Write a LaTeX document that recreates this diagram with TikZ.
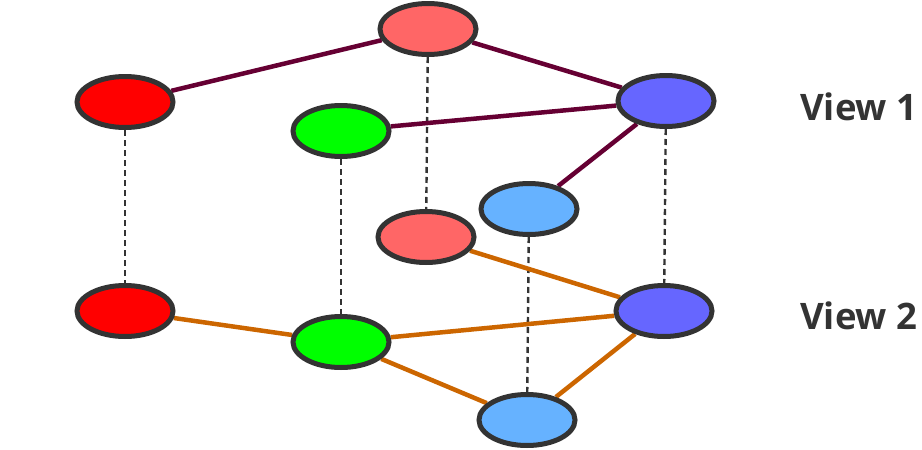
\documentclass[tikz,border=0pt]{standalone}
\usepackage{fontspec}
\setmainfont{Open Sans}
\usetikzlibrary{shapes.geometric,backgrounds}
\definecolor{nred}{HTML}{FF0000}
\definecolor{nsalmon}{HTML}{FF6666}
\definecolor{ngreen}{HTML}{00FF00}
\definecolor{npurple}{HTML}{6666FF}
\definecolor{nblue}{HTML}{66B2FF}
\definecolor{nborder}{HTML}{333333}
\definecolor{vone}{HTML}{660033}
\definecolor{vtwo}{HTML}{CC6600}
\tikzset{
  vnode/.style={ellipse, draw=nborder, line width=5pt, minimum width=96pt, minimum height=51pt, inner sep=0pt},
  edgeone/.style={draw=vone, line width=4.5pt},
  edgetwo/.style={draw=vtwo, line width=4.5pt},
  linkdash/.style={draw=nborder, line width=2.4pt, dash pattern=on 6pt off 4pt},
  viewlabel/.style={anchor=west, text=nborder, font=\fontsize{36.5}{40}\selectfont\bfseries, inner sep=0pt}
}
\begin{document}
\begin{tikzpicture}[x=1pt,y=-1pt]
\useasboundingbox (0,0) rectangle (922,450);
% View 1
\node[vnode, fill=nred] (A1) at (125,102) {};
\node[vnode, fill=nsalmon] (B1) at (428,29) {};
\node[vnode, fill=ngreen] (C1) at (341,131) {};
\node[vnode, fill=npurple] (D1) at (666,101) {};
\node[vnode, fill=nblue] (E1) at (529,209) {};
% View 2
\node[vnode, fill=nred] (A2) at (125,311) {};
\node[vnode, fill=nsalmon] (B2) at (426,237) {};
\node[vnode, fill=ngreen] (C2) at (341,342) {};
\node[vnode, fill=npurple] (D2) at (664,311) {};
\node[vnode, fill=nblue] (E2) at (527,420) {};
% labels
\node[viewlabel] (L1) at (800,107) {View 1};
\node[viewlabel] (L2) at (800,316) {View 2};
\begin{pgfonlayer}{background}
\draw[linkdash] (A1) -- (A2);
\draw[linkdash] (B1) -- (B2);
\draw[linkdash] (C1) -- (C2);
\draw[linkdash] (D1) -- (D2);
\draw[linkdash] (E1) -- (E2);
\draw[edgeone] (A1) -- (B1);
\draw[edgeone] (B1) -- (D1);
\draw[edgeone] (C1) -- (D1);
\draw[edgeone] (D1) -- (E1);
\draw[edgetwo] (A2) -- (C2);
\draw[edgetwo] (C2) -- (D2);
\draw[edgetwo] (C2) -- (E2);
\draw[edgetwo] (E2) -- (D2);
\draw[edgetwo] (B2) -- (D2);
\end{pgfonlayer}
\end{tikzpicture}
\end{document}
